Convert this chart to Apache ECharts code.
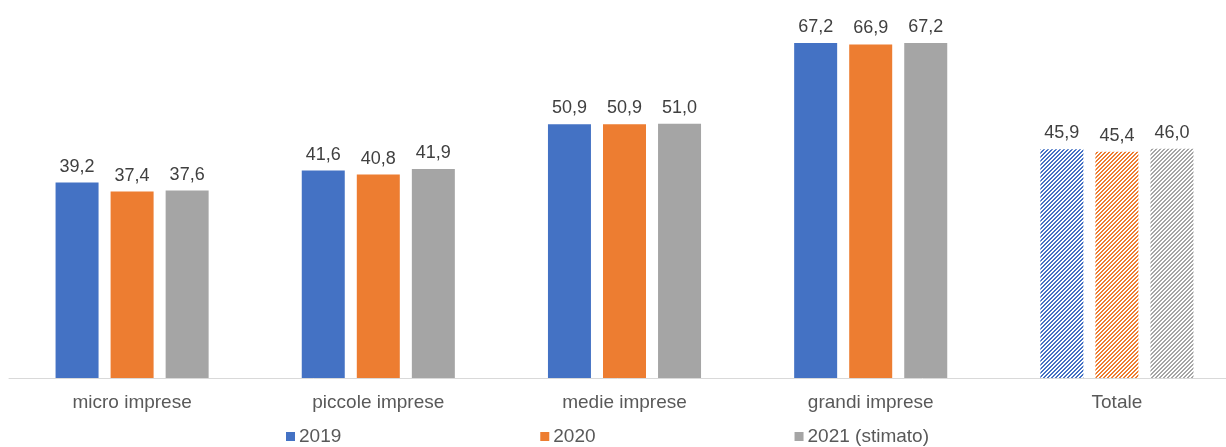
<!DOCTYPE html>
<html>
<head>
<meta charset="utf-8">
<script src="https://cdn.jsdelivr.net/npm/echarts@6/dist/echarts.min.js"></script>
<style>
  html, body { margin: 0; padding: 0; background: #fff; }
  #chart { width: 1226px; height: 447px; }
</style>
</head>
<body>
<div id="chart"></div>
<script>
// Categories and series values
const categories = ['micro imprese', 'piccole imprese', 'medie imprese', 'grandi imprese', 'Totale'];
const seriesNames = ['2019', '2020', '2021 (stimato)'];
const values2019 = [39.2, 41.6, 50.9, 67.2, 45.9];
const values2020 = [37.4, 40.8, 50.9, 66.9, 45.4];
const values2021 = [37.6, 41.9, 51.0, 67.2, 46.0];
const colors = ['#4472C4', '#ED7D31', '#A5A5A5'];
// index of the category drawn with a hatched fill
const hatchedIndex = 4;

// Diagonal stripe pattern for the hatched bars
function stripePattern(color) {
  const size = 4;
  const c = document.createElement('canvas');
  c.width = size; c.height = size;
  const ctx = c.getContext('2d');
  ctx.fillStyle = '#ffffff';
  ctx.fillRect(0, 0, size, size);
  ctx.fillStyle = color;
  for (let x = 0; x < size; x++) {
    for (let y = 0; y < size; y++) {
      if ((x + y) % 4 < 2) ctx.fillRect(x, y, 1, 1);
    }
  }
  return { image: c, repeat: 'repeat' };
}

function buildData(vals, color) {
  return vals.map((v, i) => i === hatchedIndex
    ? { value: v, itemStyle: { color: stripePattern(color) } }
    : v);
}

const fmt = p => p.value.toFixed(1).replace('.', ',');
const font = 'Liberation Sans, Arial, sans-serif';

const chart = echarts.init(document.getElementById('chart'));
chart.setOption({
  animation: false,
  textStyle: { fontFamily: font },
  grid: { left: 9, width: 1231, top: 29, height: 349, outerBoundsMode: 'none', containLabel: false },
  legend: {
    left: 281, top: 422,
    itemWidth: 9, itemHeight: 9, itemGap: 199,
    icon: 'rect',
    textStyle: { fontSize: 19, color: '#595959', fontFamily: font, padding: [0, 0, 0, -1] },
    data: seriesNames
  },
  xAxis: {
    type: 'category',
    data: categories,
    axisLine: { lineStyle: { color: '#D9D9D9', width: 1 } },
    axisTick: { show: false },
    axisLabel: { fontSize: 19, color: '#595959', margin: 15, fontFamily: font }
  },
  yAxis: { type: 'value', min: 0, max: 70, show: false, splitLine: { show: false } },
  series: [values2019, values2020, values2021].map((vals, k) => ({
    name: seriesNames[k],
    type: 'bar',
    data: buildData(vals, colors[k]),
    itemStyle: { color: colors[k] },
    barWidth: 43,
    barGap: '28%',
    label: {
      show: true, position: 'top', distance: 7,
      formatter: fmt, fontSize: 18, color: '#404040', fontFamily: font
    }
  }))
});
</script>
</body>
</html>
